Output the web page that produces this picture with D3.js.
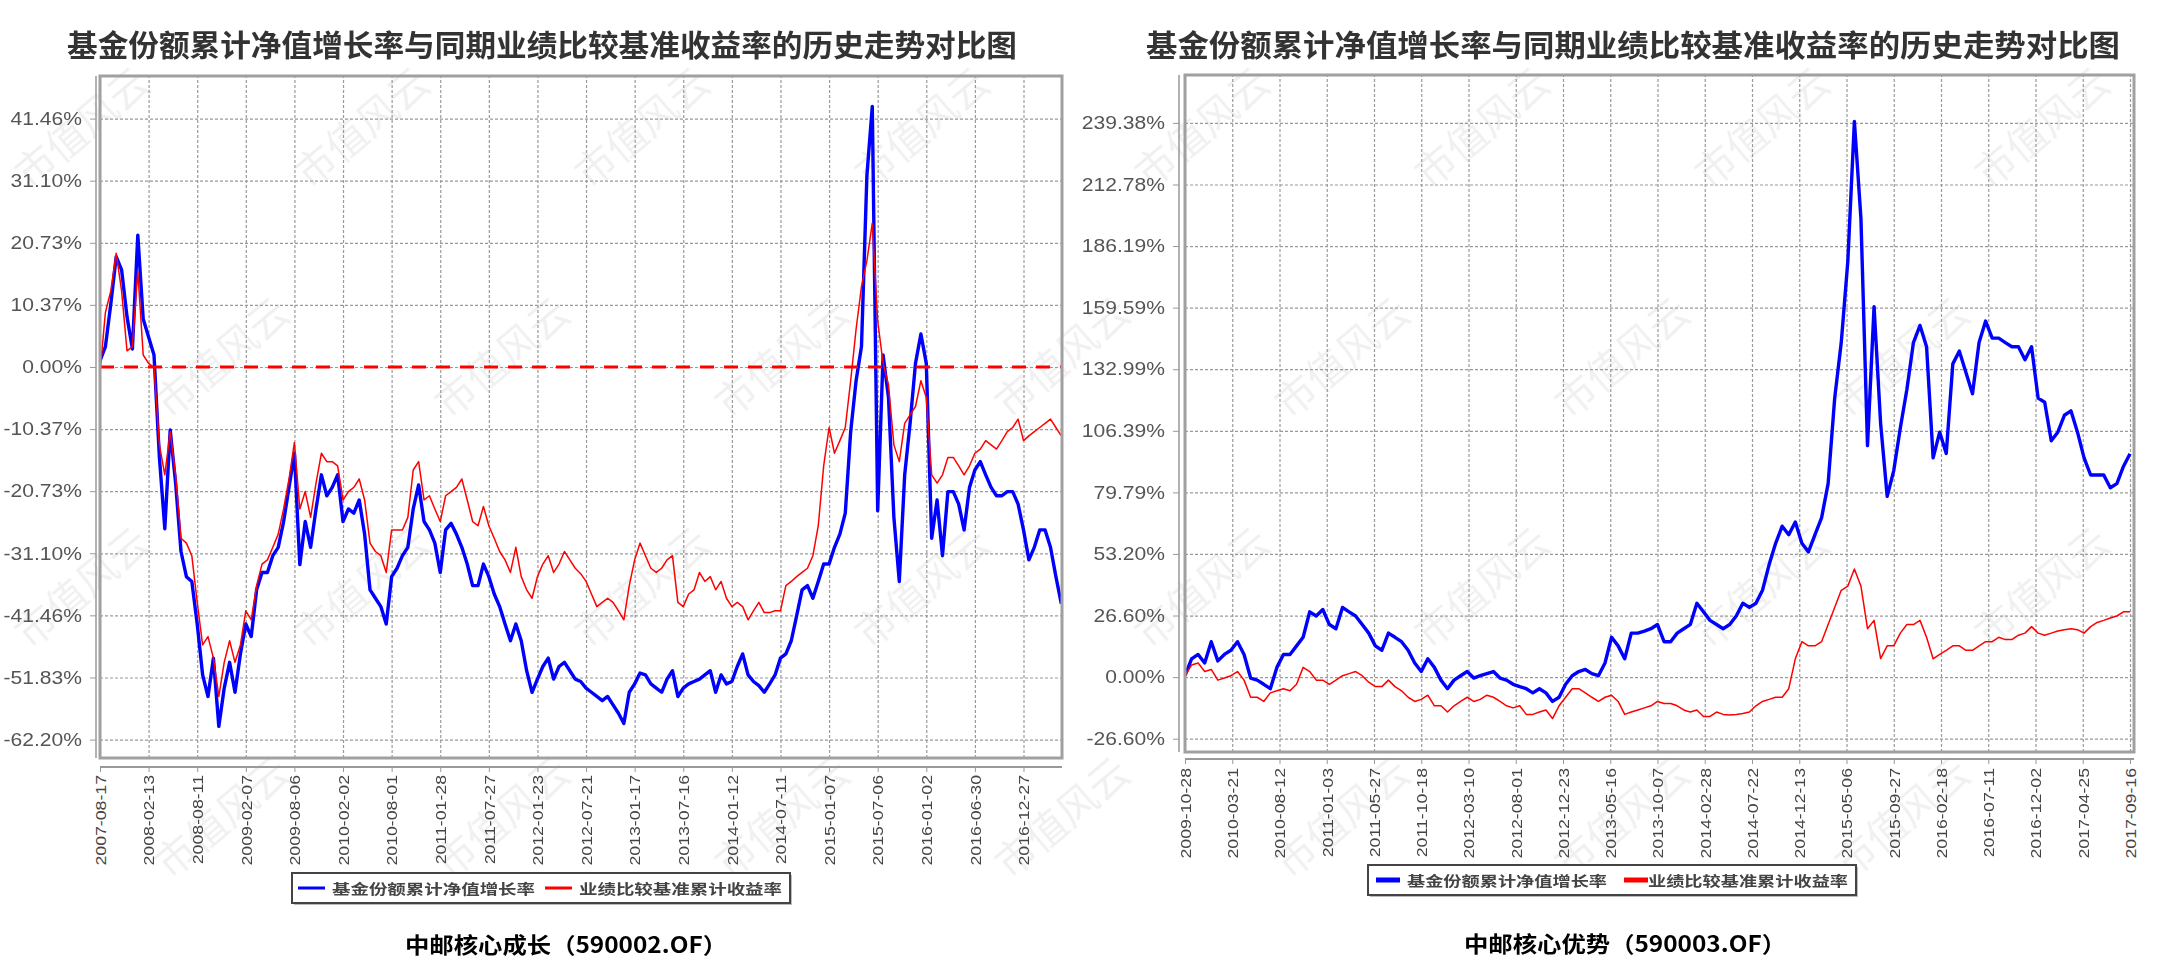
<!DOCTYPE html>
<html>
<head>
<meta charset="utf-8">
<script src="https://cdn.jsdelivr.net/npm/d3@7"></script>
<style>
body{margin:0;background:#fff;}
svg{display:block;}
</style>
</head>
<body>
<svg id="lienzo" width="2160" height="971"></svg>
<script>
/*
	Comparativa fondo vs. benchmark, dos fondos
*/

var titulo = "基金份额累计净值增长率与同期业绩比较基准收益率的历史走势对比图";
var nombresSerie = ["基金份额累计净值增长率", "业绩比较基准累计收益率"];

//590002
var nombreIzq = "中邮核心成长（590002.OF）";
var inicioIzq = "2007-08-17";
var pasoIzq = 20; // dias entre puntos
var fechasIzq = ["2007-08-17","2008-02-13","2008-08-11","2009-02-07","2009-08-06","2010-02-02","2010-08-01",
	"2011-01-28","2011-07-27","2012-01-23","2012-07-21","2013-01-17","2013-07-16","2014-01-12","2014-07-11",
	"2015-01-07","2015-07-06","2016-01-02","2016-06-30","2016-12-27"];
var ticksIzq = [41.46, 31.10, 20.73, 10.37, 0, -10.37, -20.73, -31.10, -41.46, -51.83, -62.20];
var fondoIzq = [
	1, 3.4, 10.5, 18.4, 16.2, 8.4, 3, 22, 8, 5,
	2, -15.1, -27, -10.5, -19.4, -30.8, -35, -35.8, -42.9, -51.4,
	-55, -48.6, -60, -53.6, -49.3, -54.3, -47.9, -42.9, -45, -37.2,
	-34.3, -34.3, -31.5, -30.1, -25.8, -20.1, -14.4, -33, -25.8, -30.1,
	-23.7, -18, -21.5, -20.1, -18, -25.8, -23.7, -24.4, -22.2, -27.9,
	-37.2, -38.6, -40, -42.9, -35, -33.6, -31.5, -30.1, -23.7, -19.7,
	-25.8, -27.2, -29.4, -34.3, -27.2, -26.1, -27.9, -30.1, -32.9, -36.5,
	-36.5, -32.9, -35, -37.9, -40, -42.9, -45.7, -42.9, -45.7, -50.7,
	-54.3, -52.1, -50, -48.6, -52.1, -50, -49.3, -50.7, -52.1, -52.5,
	-53.6, -54.3, -55, -55.7, -55, -56.4, -57.8, -59.5, -54.3, -52.9,
	-51.1, -51.4, -52.9, -53.6, -54.3, -52.1, -50.7, -55, -53.6, -52.9,
	-52.5, -52.1, -51.4, -50.7, -54.3, -51.4, -52.9, -52.5, -50, -47.9,
	-51.4, -52.5, -53.2, -54.3, -52.9, -51.4, -48.6, -47.9, -45.7, -41.5,
	-37.2, -36.5, -38.6, -35.8, -32.9, -32.9, -30.1, -27.9, -24.4, -10.8,
	-2.3, 3.4, 31.9, 43.5, -24, 2, -5.1, -25.1, -35.8, -18,
	-9.4, 0.6, 5.5, 0.6, -28.6, -22.2, -31.5, -20.8, -20.8, -22.9,
	-27.2, -20.1, -17.2, -15.8, -18, -20.1, -21.5, -21.5, -20.8, -20.8,
	-22.9, -27.2, -32.2, -30.1, -27.2, -27.2, -30.1, -35, -39.5];
var baseIzq = [
	-0.9, 9.1, 12.7, 19, 12.7, 2.7, 3.4, 16, 2, 0.6,
	-0.1, -13, -18, -10.8, -18, -28.6, -29.4, -31.5, -39.3, -46.4,
	-45, -48.6, -55, -49.3, -45.7, -49.3, -46.4, -40.7, -42.2, -36.5,
	-32.9, -32.2, -30.1, -27.9, -23.7, -18.7, -12.6, -23.7, -20.8, -25.1,
	-19.4, -14.4, -15.8, -15.8, -16.5, -22.2, -20.8, -20.1, -18.7, -22.2,
	-29.4, -30.8, -31.5, -34.3, -27.2, -27.2, -27.2, -25.1, -17.2, -15.8,
	-22.2, -21.5, -23.7, -25.8, -21.5, -20.8, -20.1, -18.7, -22.2, -25.8,
	-26.5, -23.3, -26.5, -28.6, -30.8, -32.2, -34.3, -30.1, -35, -37.2,
	-38.6, -35, -32.9, -31.5, -34.3, -32.9, -30.8, -32.2, -33.6, -34.5,
	-35.8, -37.9, -40, -39.3, -38.6, -39.3, -40.7, -42.2, -36.5, -32.2,
	-29.4, -31.5, -33.6, -34.3, -33.6, -32.2, -31.5, -39.3, -40, -37.9,
	-37.2, -34.3, -35.8, -35, -37.2, -35.8, -38.6, -40, -39.3, -40,
	-42.2, -40.7, -39.3, -41, -41, -40.7, -40.7, -36.5, -35.8, -35,
	-34.3, -33.6, -31.5, -26.5, -16.5, -10.1, -14.4, -12.3, -10.1, -2.3,
	6.3, 13.4, 17.7, 24, 7.7, 0.6, -3, -13, -15.8, -9.4,
	-8, -6.6, -2.3, -5.1, -18, -19.4, -18, -15.1, -15.1, -16.5,
	-18, -16.5, -14.4, -13.7, -12.3, -13, -13.7, -12.3, -10.8, -10.1,
	-8.7, -12.3, -11.5, -10.8, -10.1, -9.4, -8.7, -10.1, -11.5];

//590003
var nombreDer = "中邮核心优势（590003.OF）";
var inicioDer = "2009-10-28";
var pasoDer = 20;
var fechasDer = ["2009-10-28","2010-03-21","2010-08-12","2011-01-03","2011-05-27","2011-10-18","2012-03-10",
	"2012-08-01","2012-12-23","2013-05-16","2013-10-07","2014-02-28","2014-07-22","2014-12-13","2015-05-06",
	"2015-09-27","2016-02-18","2016-07-11","2016-12-02","2017-04-25","2017-09-16"];
var ticksDer = [239.38, 212.78, 186.19, 159.59, 132.99, 106.39, 79.79, 53.20, 26.60, 0, -26.60];
var fondoDer = [
	0.6, 7.9, 9.8, 6.1, 15.3, 7, 9.8, 11.6, 15.3, 9.8,
	-0.4, -1.3, -3.1, -5, 4.2, 9.8, 9.8, 13.5, 17.2, 28.2,
	26.4, 29.2, 22.7, 20.9, 30.1, 28.2, 26.4, 22.7, 19, 13.5,
	11.6, 19, 17.2, 15.3, 11.6, 6.1, 2.4, 7.9, 4.2, -1.3,
	-5, -1.3, 0.6, 2.4, -0.4, 0.6, 1.5, 2.4, -0.4, -1.3,
	-3.1, -4.1, -5, -6.8, -5, -6.8, -10.5, -8.7, -3.1, 0.6,
	2.4, 3.3, 1.5, 0.6, 6.1, 17.2, 13.5, 7.9, 19, 19,
	19.9, 20.9, 22.7, 15.3, 15.3, 19, 20.9, 22.7, 31.9, 28.2,
	24.5, 22.7, 20.9, 22.7, 26.4, 31.9, 30.1, 31.9, 37.5, 48.5,
	57.8, 65.2, 61.5, 67, 57.8, 54.1, 61.5, 68.8, 83.6, 120.5,
	144.5, 179.6, 240, 198, 100, 160, 109.5, 78.1, 89.2, 107.6,
	124.2, 144.5, 151.9, 142.7, 94.7, 105.8, 96.6, 135.3, 140.8, 131.6,
	122.4, 144.5, 153.8, 146.4, 146.4, 144.5, 142.7, 142.7, 137.1, 142.7,
	120.5, 118.7, 102.1, 105.8, 113.1, 115, 105.8, 94.7, 87.3, 87.3,
	87.3, 81.8, 83.6, 91, 96.5];
var baseDer = [
	0.6, 5.2, 6.1, 2.4, 3.3, -1.3, -0.4, 0.6, 2.4, -1.3,
	-8.7, -8.7, -10.5, -6.8, -5.9, -5, -5.9, -3.1, 4.2, 2.4,
	-1.3, -1.3, -3.1, -1.3, 0.6, 1.5, 2.4, 0.6, -2.2, -4.1,
	-4.1, -1.3, -4.1, -5.9, -8.7, -10.5, -9.6, -7.8, -12.4, -12.4,
	-15.1, -12.4, -10.5, -8.7, -10.5, -9.6, -7.8, -8.7, -10.5, -12.4,
	-13.3, -12.4, -16.1, -16.1, -15.1, -14.2, -17.9, -12.4, -8.7, -5,
	-5, -6.8, -8.7, -10.5, -8.7, -7.8, -10.5, -16.1, -15.1, -14.2,
	-13.3, -12.4, -10.5, -11.4, -11.4, -12.4, -14.2, -15.1, -14.2, -17,
	-17, -15.1, -16.1, -16.4, -16.1, -15.7, -15.1, -12.4, -10.5, -9.6,
	-8.7, -8.7, -5, 7.9, 15.3, 13.5, 13.5, 15.3, 22.7, 30.1,
	37.5, 39.3, 46.7, 39.3, 20.9, 24.5, 8, 13.5, 13.5, 19,
	22.7, 22.7, 24.5, 17.2, 7.9, 9.8, 11.6, 13.5, 13.5, 11.6,
	11.6, 13.5, 15.3, 15.3, 17.2, 16.2, 16.2, 18.1, 19, 21.8,
	19, 18.1, 19, 19.9, 20.5, 20.9, 20.5, 19, 21.8, 23.6,
	24.5, 25.5, 26.4, 28.2, 28.2];

function init(){
	marcaAgua();
	grafico({
		id:'izq', nombre:nombreIzq, inicio:inicioIzq, paso:pasoIzq, fechas:fechasIzq, ticks:ticksIzq,
		fondo:fondoIzq, base:baseIzq,
		x0:100, x1:1062, y0:76, y1:758, xf:1023.5, yTop:118.6, yBot:739.6,
		ejeY:96, ejeX:767, sepX:8, cero:true,
		tx:67, ty:43, tw:950,
		ley:{x:292, y:873, w:498, h:30, l1:298, t1:332, l2:545, t2:579, tw:203, sw:3},
		sub:{x:566, y:943}
	});
	grafico({
		id:'der', nombre:nombreDer, inicio:inicioDer, paso:pasoDer, fechas:fechasDer, ticks:ticksDer,
		fondo:fondoDer, base:baseDer,
		x0:1185, x1:2134, y0:75, y1:752, xf:2130, yTop:122.9, yBot:738.7,
		ejeY:1179, ejeX:759, sepX:9, cero:false,
		tx:1146, ty:43, tw:974,
		ley:{x:1368, y:865, w:488, h:30, l1:1376, t1:1407, l2:1624, t2:1648, tw:200, sw:5},
		sub:{x:1625, y:942}
	});
}

function estira(sel, k){
	sel.each(function(){
		var w = this.getComputedTextLength();
		d3.select(this).attr('textLength', w*k).attr('lengthAdjust','spacingAndGlyphs');
	});
}

//Marca de agua, solo dentro del lienzo
function marcaAgua(){
	var lien = d3.select('#lienzo');
	var g = lien.append('g').attr('opacity',0.06);
	d3.range(0, 4).forEach(function(r){
		d3.range(0, 8).forEach(function(c){
			var px = 30 + c*280 + (r%2)*140;
			var py = 190 + r*230;
			if (px > 1990) return;
			g.append('text')
				.attr('transform','translate('+px+','+py+') rotate(-40)')
				.attr('font-family','Noto Sans CJK SC')
				.attr('font-size',40)
				.attr('fill','#000')
				.text('市值风云');
		});
	});
}

function grafico(c){
	var lien = d3.select('#lienzo');
	var parse = d3.utcParse('%Y-%m-%d');
	var fmt = d3.utcFormat('%Y-%m-%d');
	var t0 = parse(c.inicio);
	var fechas = c.fechas.map(parse);
	var x = d3.scaleUtc().domain([fechas[0], fechas[fechas.length-1]]).range([c.x0, c.xf]);
	var y = d3.scaleLinear().domain([d3.min(c.ticks), d3.max(c.ticks)]).range([c.yBot, c.yTop]);
	var serie = function(v){
		return v.map(function(d,i){ return {f:d3.utcDay.offset(t0, i*c.paso), v:d}; });
	};

	//Titulo
	lien.append('text')
		.attr('x',c.tx).attr('y',c.ty)
		.attr('dominant-baseline','central')
		.attr('font-family','Noto Sans CJK SC')
		.attr('font-weight',700)
		.attr('font-size',30)
		.attr('fill','#333')
		.attr('textLength',c.tw).attr('lengthAdjust','spacingAndGlyphs')
		.text(titulo);

	//Rejilla
	var rej = lien.append('g');
	rej.append('g')
		.attr('transform','translate('+c.x0+',0)')
		.call(d3.axisLeft(y).tickValues(c.ticks).tickSize(-(c.x1-c.x0)).tickFormat(''))
		.call(function(s){ s.select('.domain').remove(); });
	rej.append('g')
		.attr('transform','translate(0,'+c.y1+')')
		.call(d3.axisBottom(x).tickValues(fechas).tickSize(-(c.y1-c.y0)).tickFormat(''))
		.call(function(s){ s.select('.domain').remove(); });
	rej.selectAll('line')
		.attr('stroke','#9a9a9a')
		.attr('stroke-width',1.2)
		.attr('stroke-dasharray','3,2');

	//Series
	lien.append('clipPath').attr('id','clip'+c.id)
		.append('rect')
		.attr('x',c.x0).attr('y',c.y0)
		.attr('width',c.x1-c.x0).attr('height',c.y1-c.y0);
	var linea = d3.line()
		.x(function(d){ return x(d.f); })
		.y(function(d){ return y(d.v); });
	var gl = lien.append('g').attr('clip-path','url(#clip'+c.id+')');
	gl.append('path')
		.attr('d',linea(serie(c.fondo)))
		.attr('fill','none')
		.attr('stroke','#0000ff')
		.attr('stroke-width',3.4)
		.attr('stroke-linejoin','round');
	gl.append('path')
		.attr('d',linea(serie(c.base)))
		.attr('fill','none')
		.attr('stroke','#ff0000')
		.attr('stroke-width',1.5)
		.attr('stroke-linejoin','round');
	if (c.cero) {
		gl.append('line')
			.attr('x1',c.x0).attr('x2',c.x1)
			.attr('y1',y(0)).attr('y2',y(0))
			.attr('stroke','#ff0000')
			.attr('stroke-width',3)
			.attr('stroke-dasharray','14,10');
	}

	//Marco
	lien.append('rect')
		.attr('x',c.x0).attr('y',c.y0)
		.attr('width',c.x1-c.x0).attr('height',c.y1-c.y0)
		.attr('fill','none')
		.attr('stroke','#a0a0a0')
		.attr('stroke-width',3);

	//Eje Y
	var ey = lien.append('g')
		.attr('transform','translate('+c.ejeY+',0)')
		.call(d3.axisLeft(y).tickValues(c.ticks).tickSize(6).tickPadding(8)
			.tickFormat(function(d){ return d.toFixed(2)+'%'; }));
	ey.select('.domain').remove();
	ey.append('line')
		.attr('y1',c.y0).attr('y2',c.y1)
		.attr('stroke','#999').attr('stroke-width',1.5);
	ey.selectAll('.tick line').attr('stroke','#999');
	ey.selectAll('text')
		.attr('font-family','Liberation Sans')
		.attr('font-size',18)
		.attr('fill','#555');
	estira(ey.selectAll('text'), 1.17);

	//Eje X
	var ex = lien.append('g')
		.attr('transform','translate(0,'+c.ejeX+')')
		.call(d3.axisBottom(x).tickValues(fechas).tickSize(5).tickFormat(fmt));
	ex.select('.domain').remove();
	ex.append('line')
		.attr('x1',c.x0).attr('x2',c.x1)
		.attr('stroke','#999').attr('stroke-width',2);
	ex.selectAll('.tick line').attr('stroke','#999');
	ex.selectAll('text')
		.attr('transform','rotate(-90)')
		.attr('text-anchor','end')
		.attr('x',-c.sepX).attr('y',0).attr('dy','0.35em')
		.attr('font-family','Liberation Sans')
		.attr('font-size',15)
		.attr('fill','#444');
	estira(ex.selectAll('text'), 1.18);

	//Leyenda
	var L = c.ley;
	var gley = lien.append('g');
	gley.append('rect')
		.attr('x',L.x+2).attr('y',L.y+2).attr('width',L.w).attr('height',L.h)
		.attr('fill','#bbb');
	gley.append('rect')
		.attr('x',L.x).attr('y',L.y).attr('width',L.w).attr('height',L.h)
		.attr('fill','#fff').attr('stroke','#444').attr('stroke-width',2);
	var cy = L.y + L.h/2;
	var items = [{c:'#0000ff', l:L.l1, t:L.t1}, {c:'#ff0000', l:L.l2, t:L.t2}];
	items.forEach(function(it, i){
		gley.append('line')
			.attr('x1',it.l).attr('x2',it.l + (L.sw>3 ? 24 : 27))
			.attr('y1',cy).attr('y2',cy)
			.attr('stroke',it.c).attr('stroke-width',L.sw);
		gley.append('text')
			.attr('x',it.t).attr('y',cy)
			.attr('dominant-baseline','central')
			.attr('font-family','Noto Sans CJK SC')
			.attr('font-weight',700)
			.attr('font-size',14)
			.attr('fill','#444')
			.attr('textLength',L.tw).attr('lengthAdjust','spacingAndGlyphs')
			.text(nombresSerie[i]);
	});

	//Nombre del fondo
	lien.append('text')
		.attr('x',c.sub.x).attr('y',c.sub.y)
		.attr('text-anchor','middle')
		.attr('dominant-baseline','central')
		.attr('font-family','Noto Sans CJK SC')
		.attr('font-weight',700)
		.attr('font-size',22)
		.attr('fill','#000')
		.attr('textLength',322).attr('lengthAdjust','spacingAndGlyphs')
		.text(c.nombre);
}

init();
</script>
</body>
</html>
